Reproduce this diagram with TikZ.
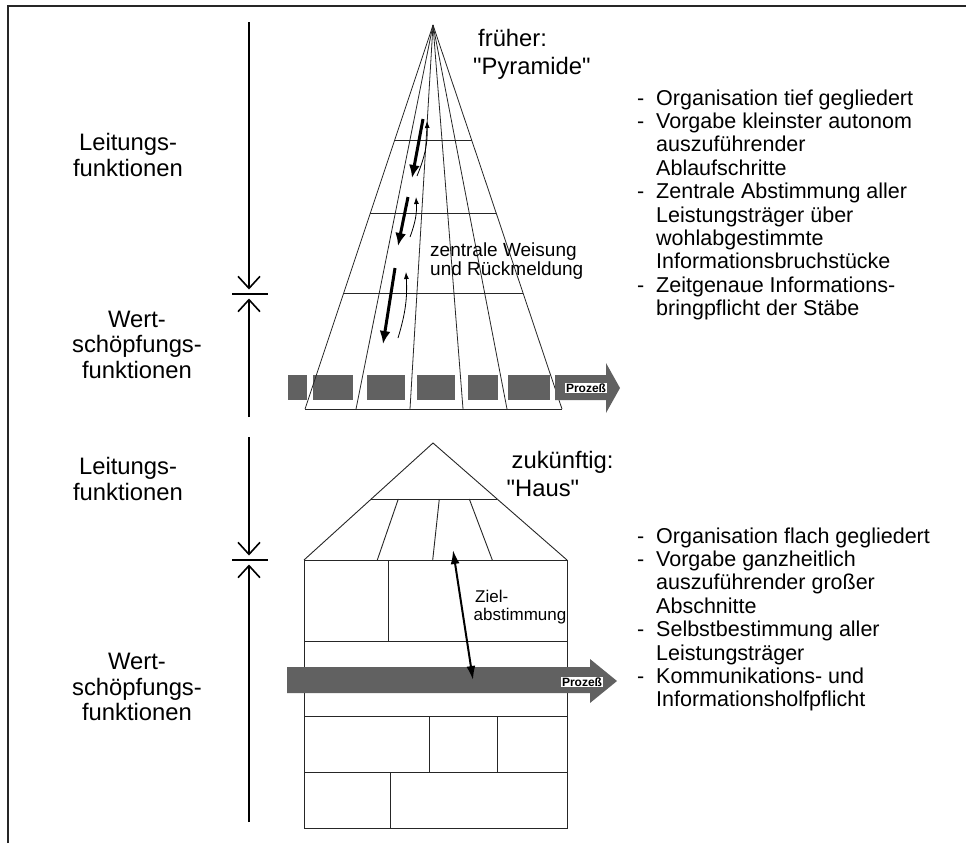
\documentclass[tikz,border=0pt]{standalone}
\usepackage{fontspec}
\setmainfont{Liberation Sans}
\usetikzlibrary{arrows.meta,calc}
\begin{document}
\begin{tikzpicture}[x=1pt,y=-1pt,
  big/.style={font=\fontsize{23.8}{26}\selectfont, inner sep=0pt, anchor=base},
  bigl/.style={big, anchor=base west},
  rtext/.style={font=\fontsize{21.5}{23}\selectfont, inner sep=0pt, anchor=base west},
  mid/.style={font=\fontsize{17}{19}\selectfont, inner sep=0pt, anchor=base west},
  midw/.style={font=\fontsize{19}{19}\selectfont, inner sep=0pt, anchor=base west},
  proc/.style={font=\bfseries\fontsize{12}{13}\selectfont, fill=white, inner sep=1pt},
  fan/.style={draw=black!85, line width=0.8pt},
  wall/.style={draw=black!85, line width=0.9pt},
  blockfill/.style={fill=black!62},
  dimline/.style={line width=1.6pt, -{Straight Barb[length=12pt,width=22pt]}},
  thickarr/.style={line width=3pt, -{Latex[length=13pt,width=11pt]}},
  thinarr/.style={line width=0.8pt, -{Latex[length=7pt,width=5pt]}},
  ziel/.style={line width=2pt, {Latex[length=14pt,width=9pt]}-{Latex[length=14pt,width=9pt]}},
  framel/.style={line width=2pt, draw=black!85}
]
\useasboundingbox (0,0) rectangle (973,849);

% frame
\coordinate (fa) at (8,843);
\coordinate (fb) at (8,6);
\coordinate (fc) at (966,6);
\draw[framel] (fa) -- (fb) -- (fc);

% ---------- left labels ----------
\node[big] (lf1a) at (128,150) {Leitungs-};
\node[big] (lf1b) at (128,176) {funktionen};
\node[big] (wf1a) at (137,327) {Wert-};
\node[big] (wf1b) at (137,352) {schöpfungs-};
\node[big] (wf1c) at (137,378) {funktionen};
\node[big] (lf2a) at (128,474) {Leitungs-};
\node[big] (lf2b) at (128,500) {funktionen};
\node[big] (wf2a) at (137,669) {Wert-};
\node[big] (wf2b) at (137,695) {schöpfungs-};
\node[big] (wf2c) at (137,720) {funktionen};

% ---------- dimension arrows ----------
\coordinate (d1t) at (249,22);
\coordinate (d1u) at (249,289.5);
\coordinate (d1l) at (249,298.5);
\coordinate (d1b) at (249,417);
\coordinate (d1x) at (232,294);
\coordinate (d1y) at (268,294);
\draw[dimline] (d1t) -- (d1u);
\draw[dimline] (d1b) -- (d1l);
\draw[line width=1.6pt] (d1x) -- (d1y);

\coordinate (d2t) at (249,437);
\coordinate (d2u) at (249,555.5);
\coordinate (d2l) at (249,564.5);
\coordinate (d2b) at (249,822);
\coordinate (d2x) at (232,560);
\coordinate (d2y) at (268,560);
\draw[dimline] (d2t) -- (d2u);
\draw[dimline] (d2b) -- (d2l);
\draw[line width=1.6pt] (d2x) -- (d2y);

% ---------- pyramid ----------
\coordinate (apex) at (433,25);
\coordinate (b0) at (305,409);
\coordinate (b1) at (356,409);
\coordinate (b2) at (410,409);
\coordinate (b3) at (463,409);
\coordinate (b4) at (507,409);
\coordinate (b5) at (562,409);

% shaded blocks
\fill[blockfill] (288,375) rectangle (307,400);
\fill[blockfill] (313,375) rectangle (353,400);
\fill[blockfill] (367,375) rectangle (405,400);
\fill[blockfill] (417,375) rectangle (455,400);
\fill[blockfill] (468,375) rectangle (498,400);
\fill[blockfill] (508,375) rectangle (550,400);

\foreach \b in {b0,b1,b2,b3,b4,b5} \draw[fan] (apex) -- (\b);
\foreach \t in {0.29948,0.48958,0.69792}
  \draw[fan] ($(apex)!\t!(b0)$) -- ($(apex)!\t!(b5)$);
\draw[fan] (b0) -- (b5);

% Prozess arrow (pyramid)
\fill[blockfill] (555,375) -- (606,375) -- (606,363) -- (620,388) -- (606,413) -- (606,400) -- (555,400) -- cycle;
\node[proc] (pz1) at (586,388) {Prozeß};

% Weisung / Rueckmeldung arrows
\coordinate (w1a) at (423,119); \coordinate (w1b) at (412,178);
\coordinate (r1a) at (417,176); \coordinate (r1b) at (427,121);
\coordinate (w2a) at (408,197); \coordinate (w2b) at (398,246);
\coordinate (r2a) at (410,237); \coordinate (r2b) at (416,197);
\coordinate (w3a) at (395,268); \coordinate (w3b) at (383,344);
\coordinate (r3a) at (398,338); \coordinate (r3b) at (406,272);
\draw[thickarr] (w1a) -- (w1b);
\draw[thickarr] (w2a) -- (w2b);
\draw[thickarr] (w3a) -- (w3b);
\draw[thinarr] (r1a) to[bend right=12] (r1b);
\draw[thinarr] (r2a) to[bend right=12] (r2b);
\draw[thinarr] (r3a) to[bend right=10] (r3b);

\node[midw] (zw1) at (430,256) {zentrale Weisung};
\node[midw] (zw2) at (430,275) {und Rückmeldung};

\node[bigl] (fr1) at (478,46) {früher:};
\node[bigl] (fr2) at (473,74) {\textquotedbl Pyramide\textquotedbl};

% ---------- house ----------
\coordinate (ha) at (433,443);
\coordinate (hl) at (304,560);
\coordinate (hr) at (567,560);
\coordinate (hbl) at (304,828);
\coordinate (hbr) at (567,828);
\draw[wall] (hl) -- (ha) -- (hr);
\draw[wall] (hl) -- (hbl) -- (hbr) -- (hr) -- cycle;
\draw[wall] ($(ha)!0.4786!(hl)$) -- ($(ha)!0.4786!(hr)$);
\draw[wall] (398.3,499) -- (377.3,560);
\draw[wall] (439.3,499) -- (432.7,560);
\draw[wall] (469.3,499) -- (492.3,560);
\draw[wall] (304,641.7) -- (567,641.7);
\draw[wall] (304,716.7) -- (567,716.7);
\draw[wall] (304,772.7) -- (567,772.7);
\draw[wall] (388.3,560) -- (388.3,641.7);
\draw[wall] (429,716.7) -- (429,772.7);
\draw[wall] (497.7,716.7) -- (497.7,772.7);
\draw[wall] (390.7,772.7) -- (390.7,828);

% Prozess band
\fill[blockfill] (287,667) -- (590,667) -- (590,659) -- (617,681) -- (590,703) -- (590,693) -- (287,693) -- cycle;
\node[proc] (pz2) at (582,682) {Prozeß};

% Ziel arrow
\coordinate (za) at (453,550);
\coordinate (zb) at (473,680);
\draw[ziel] (za) -- (zb);
\node[mid] (zl1) at (475,602.5) {Ziel-};
\node[mid] (zl2) at (473.5,620) {abstimmung};

\node[bigl] (zk1) at (511.5,468) {zukünftig:};
\node[bigl] (zk2) at (506.5,496.5) {\textquotedbl Haus\textquotedbl};

% ---------- right text ----------
\foreach \s [count=\i] in {%
  \llap{-\hspace{12pt}}Organisation tief gegliedert,
  \llap{-\hspace{12pt}}Vorgabe kleinster autonom,
  auszuführender,
  Ablaufschritte,
  \llap{-\hspace{12pt}}Zentrale Abstimmung aller,
  Leistungsträger über,
  wohlabgestimmte,
  Informationsbruchstücke,
  \llap{-\hspace{12pt}}Zeitgenaue Informations-,
  bringpflicht der Stäbe}
  \node[rtext] (ra\i) at (656,{105+23.4*(\i-1)}) {\s};

\foreach \s [count=\i] in {%
  \llap{-\hspace{12pt}}Organisation flach gegliedert,
  \llap{-\hspace{12pt}}Vorgabe ganzheitlich,
  auszuführender großer,
  Abschnitte,
  \llap{-\hspace{12pt}}Selbstbestimmung aller,
  Leistungsträger,
  \llap{-\hspace{12pt}}Kommunikations- und,
  Informationsholfpflicht}
  \node[rtext] (rb\i) at (656,{543+23.4*(\i-1)}) {\s};
\end{tikzpicture}
\end{document}
